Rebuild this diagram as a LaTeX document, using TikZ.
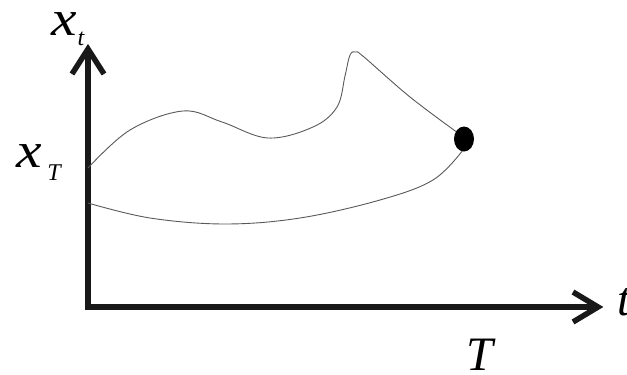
\documentclass[tikz,border=0pt]{standalone}
\usepackage{fontspec}
\usetikzlibrary{shapes.geometric}
\setmainfont{Liberation Serif}
\begin{document}
\begin{tikzpicture}[x=1pt,y=-1pt,
  axis/.style={line width=5.5pt,draw=black!90},
  barb/.style={line width=5.5pt,draw=black!90,line join=miter,line cap=butt},
  curve/.style={line width=0.9pt,draw=black!65},
  lbl/.style={inner sep=0pt,anchor=base,font=\fontsize{48}{50}\selectfont\itshape},
  xlbl/.style={inner sep=0pt,anchor=base,font=\fontsize{50}{52}\selectfont\itshape,xscale=1.15},
  sub/.style={inner sep=0pt,anchor=base,font=\fontsize{24}{26}\selectfont\itshape}]
\useasboundingbox (0,0) rectangle (627,375);
\coordinate (O) at (88,307);
\coordinate (ytip) at (88,49);
\coordinate (xtip) at (598,307);
\draw[axis] (88,310) -- (ytip);
\draw[axis] (85,307) -- (xtip);
\draw[barb] ([shift={(-16,25)}]ytip) -- (ytip) -- ([shift={(16,25)}]ytip);
\draw[barb] ([shift={(-25,-15)}]xtip) -- (xtip) -- ([shift={(-25,15)}]xtip);
% upper curve
\draw[curve] plot[smooth,tension=0.6] coordinates {(88,168) (130,130) (183,111) (222,122) (268,138) (313,127) (337,107) (345,76) (350,55) (356,52) (364,57) (410,97) (458,133)};
% lower curve
\draw[curve] plot[smooth,tension=0.6] coordinates {(88,203) (150,218) (225,224) (300,218) (380,200) (433,180) (463,150)};
\node[ellipse,fill=black,minimum width=20pt,minimum height=25pt,inner sep=0pt] (dot) at (464,139) {};
\node[xlbl] (xt) at (64,35) {x};
\node[sub] (xtsub) at (81,45) {t};
\node[xlbl] (xT) at (29,167) {x};
\node[sub] (xTsub) at (54,180) {T};
\node[lbl,anchor=base west] (tl) at (617,315) {t};
\node[lbl] (Tl) at (480,370) {T};
\end{tikzpicture}
\end{document}
